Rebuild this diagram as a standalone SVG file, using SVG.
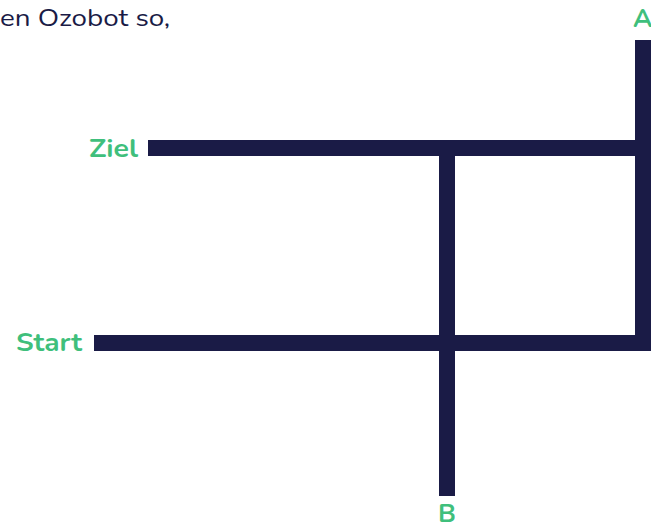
<svg xmlns="http://www.w3.org/2000/svg" width="651" height="526" viewBox="0 0 651 526">
<style>
.bar{fill:#1a1b46}
.lbl{font-family:"Nunito","Liberation Sans","DejaVu Sans",sans-serif;font-weight:bold;font-size:26px;fill:#3fbf7c}
.intro{font-family:"Nunito","Liberation Sans","DejaVu Sans",sans-serif;font-size:24px;fill:#1a1b46}
</style>
<rect width="651" height="526" fill="#ffffff"/>
<text class="intro" x="0" y="26" textLength="170" lengthAdjust="spacingAndGlyphs">en Ozobot so,</text>
<g id="connectors">
<rect class="bar" x="635" y="40" width="16" height="311"/>
<rect class="bar" x="148" y="140" width="503" height="16"/>
<rect class="bar" x="439" y="140" width="16" height="356"/>
<rect class="bar" x="94" y="335" width="557" height="16"/>
</g>
<g id="ziel"><text class="lbl" x="89" y="157" textLength="49" lengthAdjust="spacingAndGlyphs">Ziel</text></g>
<g id="start"><text class="lbl" x="16" y="351" textLength="66" lengthAdjust="spacingAndGlyphs">Start</text></g>
<g id="a"><text class="lbl" x="633" y="27">A</text></g>
<g id="b"><text class="lbl" x="438" y="522">B</text></g>
</svg>
